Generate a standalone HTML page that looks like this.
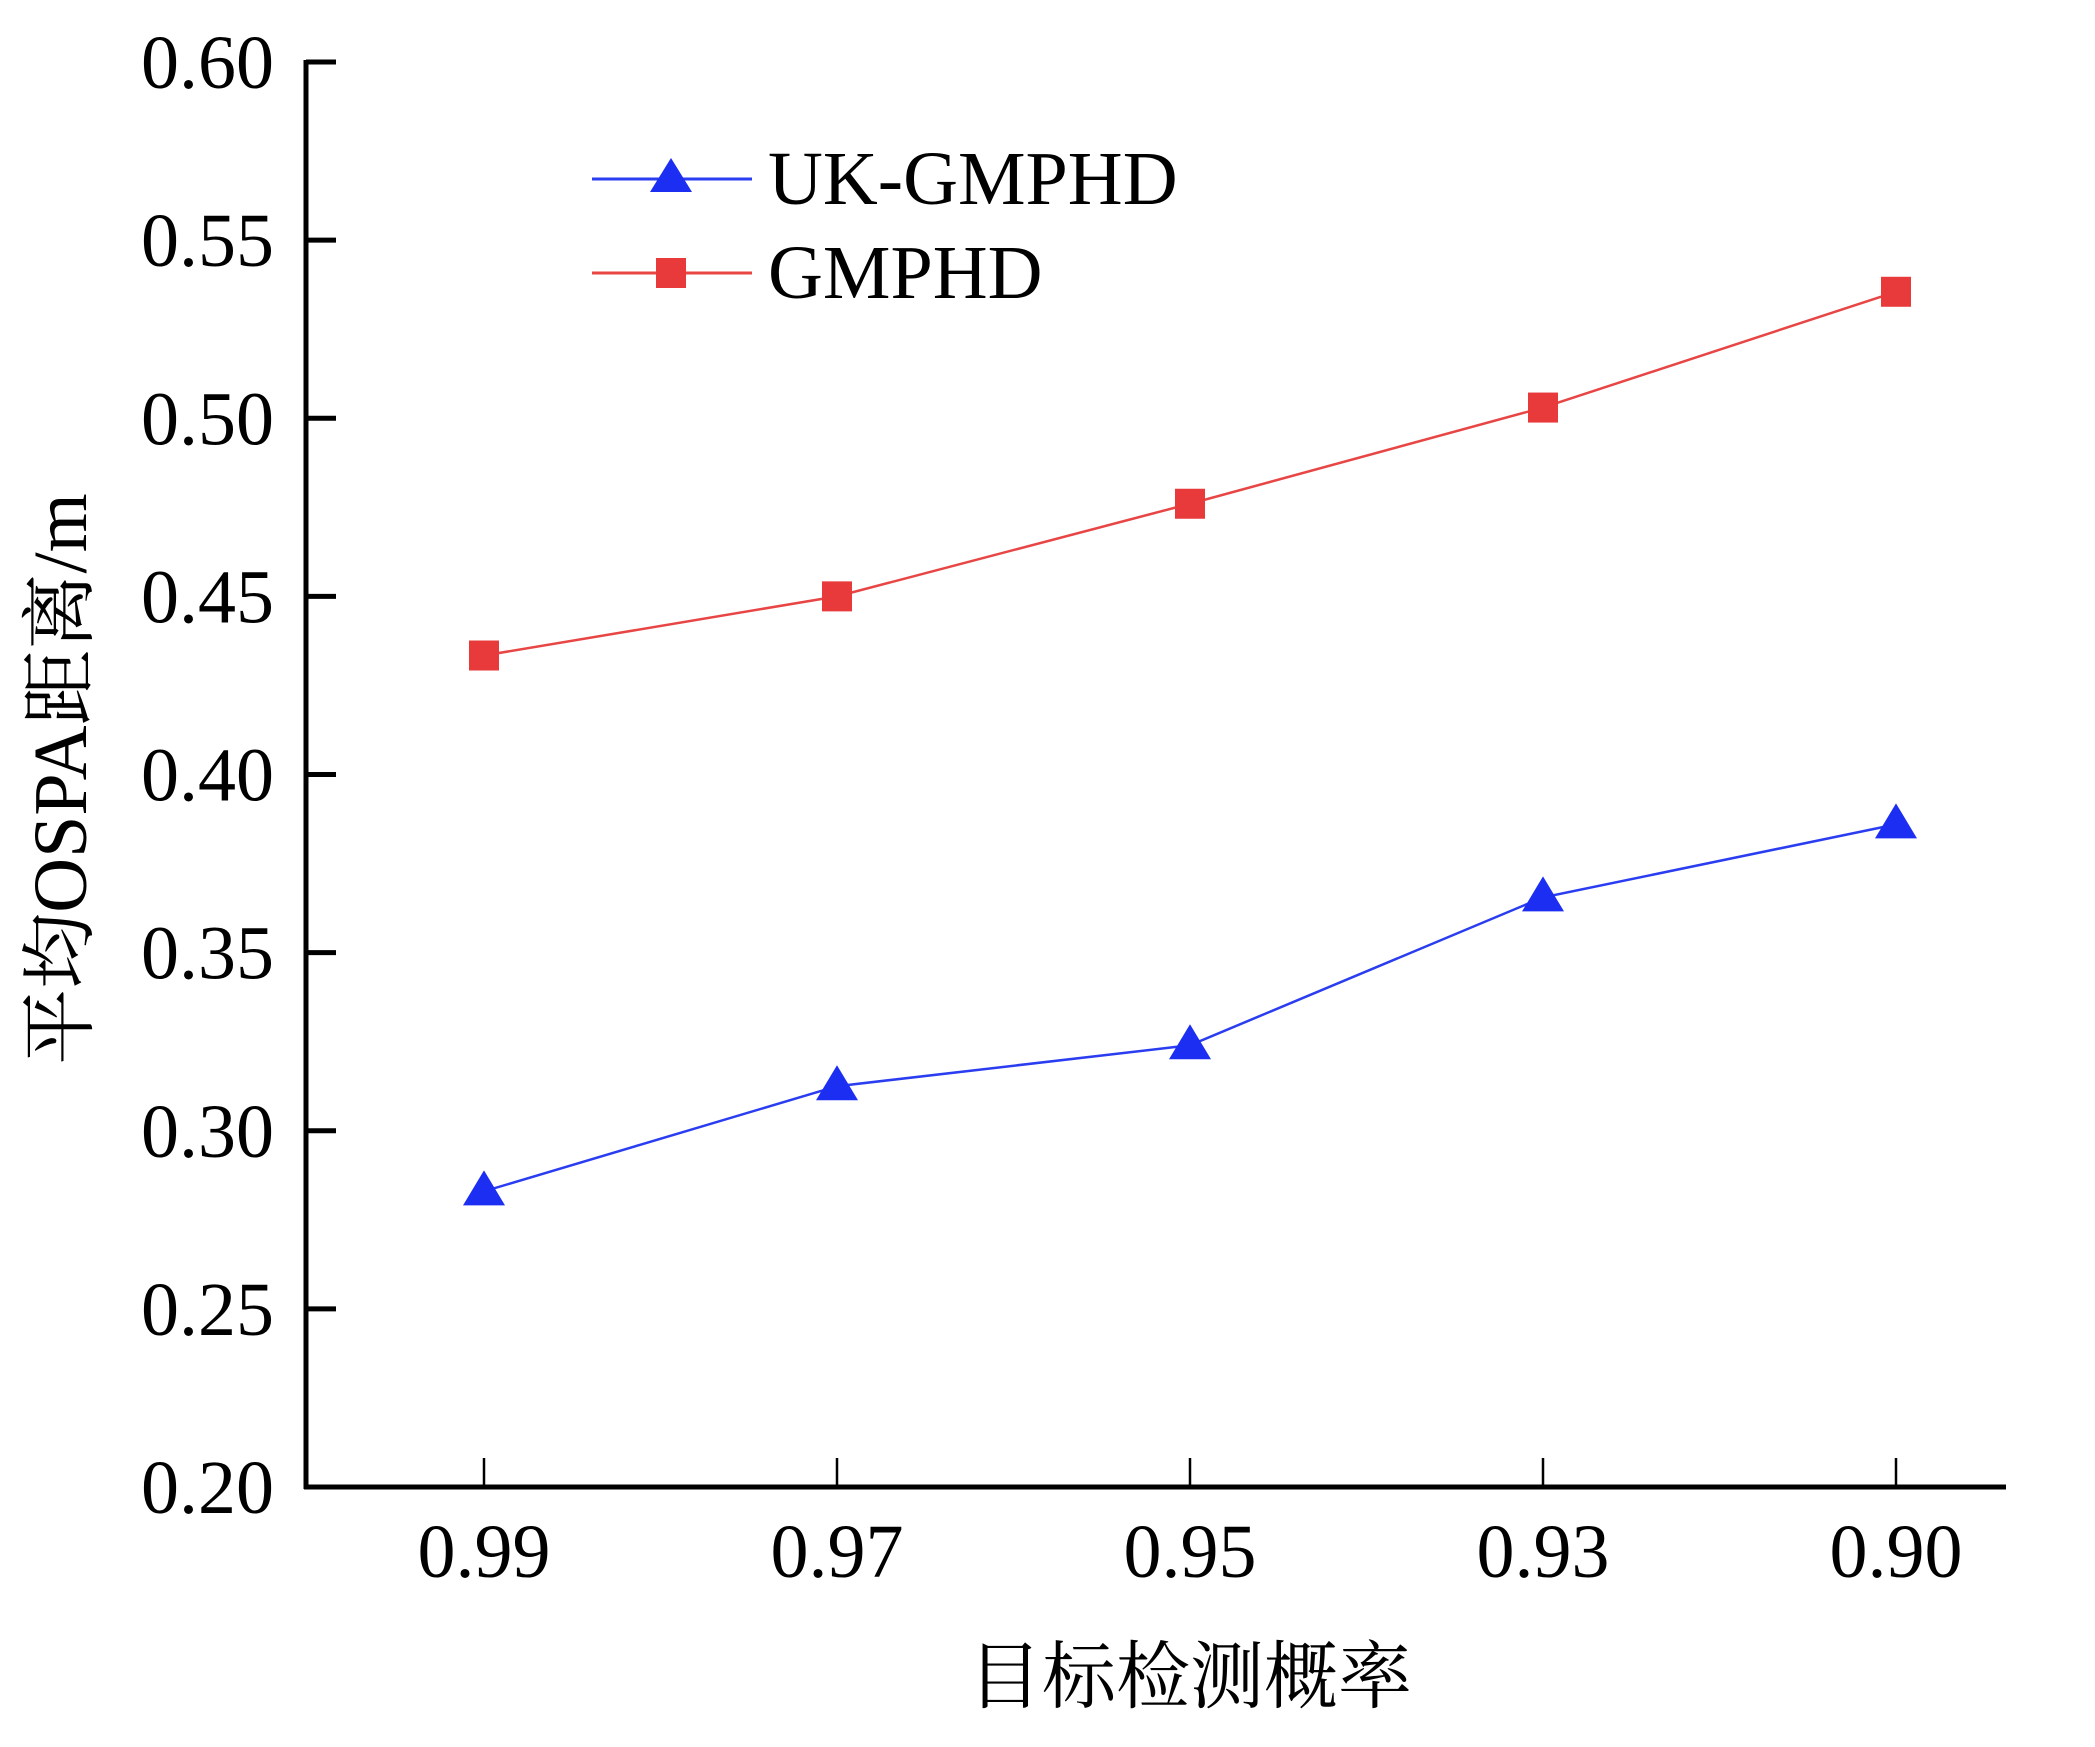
<!DOCTYPE html>
<html><head><meta charset="utf-8"><style>
html,body{margin:0;padding:0;background:#fff;}
svg{display:block;}
text{font-family:"Liberation Serif","Noto Serif CJK SC",serif;fill:#000;}
</style></head><body>
<svg id="chart" width="2095" height="1747" viewBox="0 0 2095 1747">
<g id="axes"></g>
<g id="series"></g>
<g id="legend">
  <line x1="592" y1="179" x2="752" y2="179" stroke="#2a3df0" stroke-width="3"/>
  <polygon points="671,158 692,192 650,192" fill="#1b2ef2"/>
  <text x="768" y="204" font-size="76">UK-GMPHD</text>
  <line x1="592" y1="273" x2="752" y2="273" stroke="#e84545" stroke-width="3"/>
  <rect x="656" y="258" width="30" height="30" fill="#e83a3a"/>
  <text x="768" y="298" font-size="76">GMPHD</text>
</g>
<text x="1190" y="1702" font-size="74" text-anchor="middle">目标检测概率</text>
<text transform="translate(86,779) rotate(-90)" font-size="76" text-anchor="middle">平均OSPA距离/m</text>
</svg>
<script>
const categories = ["0.99","0.97","0.95","0.93","0.90"];
const ukGmphd = [0.283, 0.3125, 0.324, 0.3655, 0.386];
const gmphd = [0.4334, 0.450, 0.476, 0.503, 0.5355];
const yTicks = [0.20,0.25,0.30,0.35,0.40,0.45,0.50,0.55,0.60];
const yTickLabels = ["0.20","0.25","0.30","0.35","0.40","0.45","0.50","0.55","0.60"];

const NS="http://www.w3.org/2000/svg";
const X0=306, X1=2006, Ytop=62, Ybot=1487, yMin=0.20, yMax=0.60;
function xScale(i){return 484 + i*(1896-484)/(categories.length-1);}
function yScale(v){return Ybot-(v-yMin)/(yMax-yMin)*(Ybot-Ytop);}
function mk(tag,attrs,parent){const e=document.createElementNS(NS,tag);for(const k in attrs)e.setAttribute(k,attrs[k]);parent.appendChild(e);return e;}
const axes=document.getElementById('axes'), series=document.getElementById('series');

let l=mk('line',{x1:X0,y1:Ytop-2,x2:X0,y2:Ybot+2,stroke:'#000','stroke-width':5},axes);


l=mk('line',{x1:X0-2,y1:Ybot,x2:X1,y2:Ybot,stroke:'#000','stroke-width':5},axes);



yTicks.forEach((v,i)=>{
  const y=yScale(v);
  const t=mk('line',{x1:X0,y1:y,x2:X0+30,y2:y,stroke:'#000','stroke-width':5},axes);
  
  
  const tx=mk('text',{x:X0-32,y:y+26,'font-size':76,'text-anchor':'end'},axes);
  tx.textContent=yTickLabels[i];
  
  
});
categories.forEach((c,i)=>{
  const x=xScale(i);
  const t=mk('line',{x1:x,y1:Ybot,x2:x,y2:Ybot-29,stroke:'#000','stroke-width':2.5},axes);
  
  
  const tx=mk('text',{x:x,y:1577,'font-size':76,'text-anchor':'middle'},axes);
  tx.textContent=c;
  
  
});

function drawSeries(vals,color,lineColor,type,name){
  const pts=vals.map((v,i)=>xScale(i)+','+yScale(v)).join(' ');
  const pl=mk('polyline',{points:pts,fill:'none',stroke:lineColor,'stroke-width':2.5},series);
  
  
  vals.forEach((v,i)=>{
    const x=xScale(i),y=yScale(v);
    let m;
    if(type==='tri'){
      m=mk('polygon',{points:`${x},${y-21} ${x+21},${y+14} ${x-21},${y+14}`,fill:color},series);
    }else{
      m=mk('rect',{x:x-15,y:y-15,width:30,height:30,fill:color},series);
    }
    
    
  });
}
drawSeries(gmphd,'#e83a3a','#e84545','sq','gmphd');
drawSeries(ukGmphd,'#1b2ef2','#2a3df0','tri','uk-gmphd');
</script>
</body></html>
